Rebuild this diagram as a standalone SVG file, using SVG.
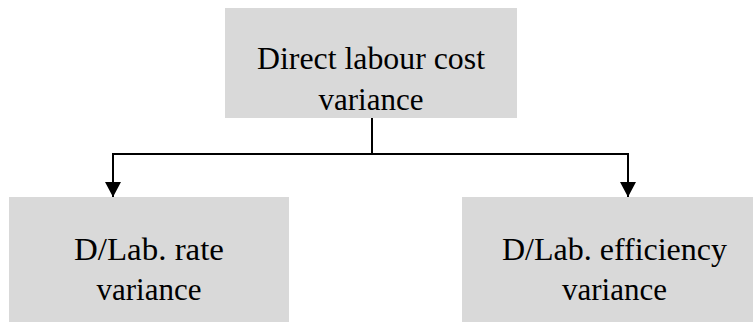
<svg xmlns="http://www.w3.org/2000/svg" width="753" height="322" viewBox="0 0 753 322">
  <style>
    .box { fill: #d9d9d9; }
    .label { font-family: "Liberation Serif", "DejaVu Serif", serif; font-size: 31px; fill: #000; text-anchor: middle; }
    .wire { fill: none; stroke: #000; stroke-width: 2; }
  </style>
  <defs>
    <!-- filled triangular head, drawn pointing along the path direction -->
    <marker id="arrow" viewBox="0 0 15 16" refX="15" refY="8" markerWidth="15" markerHeight="16" markerUnits="userSpaceOnUse" orient="auto">
      <path d="M0 0 L15 8 L0 16 Z" fill="#000"/>
    </marker>
  </defs>

  <rect width="753" height="322" fill="#fff"/>

  <g id="node-cost">
    <rect class="box" x="225" y="8" width="292" height="110"/>
    <text class="label" x="371" y="69" textLength="228" lengthAdjust="spacingAndGlyphs">Direct labour cost</text>
    <text class="label" x="371" y="110">variance</text>
  </g>

  <g id="node-rate">
    <rect class="box" x="9" y="197" width="280" height="130"/>
    <text class="label" x="149" y="260" textLength="150" lengthAdjust="spacingAndGlyphs">D/Lab. rate</text>
    <text class="label" x="149" y="300">variance</text>
  </g>

  <g id="node-efficiency">
    <rect class="box" x="462" y="197" width="300" height="130"/>
    <text class="label" x="614.5" y="260" textLength="225" lengthAdjust="spacingAndGlyphs">D/Lab. efficiency</text>
    <text class="label" x="614.5" y="300">variance</text>
  </g>

  <g id="connectors">
    <path class="wire" d="M372 118 V154"/>
    <path class="wire" d="M372 154 H113 V197" marker-end="url(#arrow)"/>
    <path class="wire" d="M372 154 H628 V197" marker-end="url(#arrow)"/>
  </g>
</svg>
